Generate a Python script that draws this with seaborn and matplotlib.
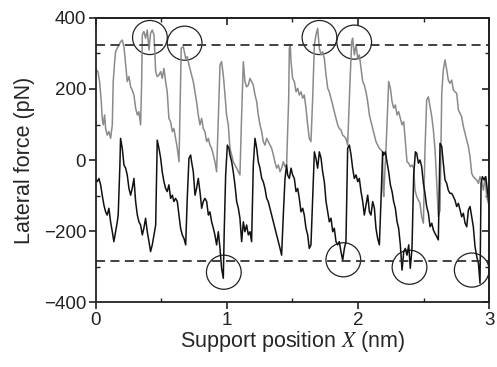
import numpy as np
import pandas as pd
import matplotlib
matplotlib.use("Agg")
import matplotlib.pyplot as plt
from matplotlib.patches import Ellipse
from matplotlib.ticker import MultipleLocator
import seaborn as sns

# upper (gray) trace
x_gray = [0.0, 0.015, 0.028, 0.041, 0.048, 0.056, 0.066, 0.074, 0.086, 0.099, 0.112, 0.125, 0.132, 0.143,
          0.150, 0.163, 0.176, 0.188, 0.201, 0.214, 0.227, 0.239, 0.252, 0.265, 0.277, 0.290, 0.303, 0.316,
          0.328, 0.341, 0.349, 0.354, 0.366, 0.379, 0.392, 0.405, 0.417, 0.430, 0.443, 0.456, 0.468, 0.481,
          0.494, 0.506, 0.519, 0.532, 0.544, 0.557, 0.570, 0.583, 0.595, 0.608, 0.621, 0.634, 0.651, 0.667,
          0.685, 0.697, 0.710, 0.723, 0.743, 0.768, 0.781, 0.794, 0.807, 0.819, 0.832, 0.845, 0.858, 0.870,
          0.883, 0.896, 0.908, 0.921, 0.947, 0.959, 0.972, 0.985, 0.997, 1.010, 1.023, 1.036, 1.048, 1.074,
          1.099, 1.112, 1.125, 1.137, 1.150, 1.163, 1.176, 1.188, 1.201, 1.214, 1.227, 1.239, 1.252, 1.265,
          1.277, 1.290, 1.303, 1.315, 1.328, 1.341, 1.354, 1.366, 1.379, 1.392, 1.405, 1.417, 1.430, 1.443,
          1.455, 1.471, 1.476, 1.483, 1.489, 1.501, 1.514, 1.527, 1.540, 1.552, 1.565, 1.578, 1.590, 1.603,
          1.616, 1.628, 1.641, 1.654, 1.667, 1.679, 1.692, 1.705, 1.718, 1.730, 1.743, 1.756, 1.769, 1.781,
          1.794, 1.807, 1.819, 1.832, 1.845, 1.857, 1.870, 1.883, 1.896, 1.908, 1.921, 1.939, 1.952, 1.959,
          1.972, 1.985, 1.998, 2.010, 2.023, 2.036, 2.048, 2.061, 2.074, 2.087, 2.099, 2.112, 2.125, 2.137,
          2.150, 2.163, 2.176, 2.188, 2.191, 2.196, 2.214, 2.234, 2.247, 2.260, 2.272, 2.285, 2.298, 2.310,
          2.323, 2.336, 2.349, 2.361, 2.374, 2.387, 2.399, 2.412, 2.425, 2.435, 2.448, 2.461, 2.473, 2.486,
          2.499, 2.511, 2.524, 2.537, 2.550, 2.563, 2.575, 2.588, 2.601, 2.613, 2.626, 2.639, 2.651, 2.664,
          2.677, 2.689, 2.702, 2.715, 2.728, 2.740, 2.753, 2.766, 2.779, 2.791, 2.804, 2.817, 2.830, 2.842,
          2.855, 2.868, 2.880, 2.893, 2.906, 2.919, 2.931, 2.944, 2.957, 2.970, 2.982, 2.995]
f_gray = [255, 249, 221, 164, 117, 99, 127, 89, 70, 80, 61, 99, 221, 277,
          305, 315, 324, 333, 338, 319, 268, 221, 235, 206, 197, 183, 146, 127,
          136, 99, 221, 352, 362, 343, 366, 310, 357, 366, 352, 249, 235, 239,
          249, 230, 258, 221, 192, 117, 108, 80, 89, 61, 33, -5, 315, 319,
          286, 291, 268, 249, 221, 164, 127, 99, 117, 89, 80, 52, 61, 42,
          33, 14, -5, -33, 268, 277, 239, 183, 127, 99, 33, 14, -5, -23,
          -42, 127, 277, 221, 206, 211, 230, 221, 211, 183, 164, 127, 99, 80,
          52, 42, 61, 52, 42, 33, 14, -5, -23, -14, -33, -23, -5, -19,
          -14, 174, 315, 324, 277, 230, 221, 192, 202, 183, 192, 174, 183, 146,
          99, 61, 52, 174, 324, 352, 371, 315, 296, 305, 286, 239, 202, 192,
          174, 155, 136, 117, 99, 89, 85, 70, 66, 61, 42, 221, 333, 343,
          296, 324, 286, 296, 258, 221, 211, 192, 164, 127, 108, 89, 70, 52,
          42, 33, 28, 23, -80, -103, 33, 221, 202, 164, 146, 155, 127, 136,
          117, 99, 108, 52, -5, -9, -19, -14, -23, -85, -103, -113, -122, -160,
          -178, 28, 169, 178, 150, 122, 85, 28, -66, -160, -141, 188, 254, 282,
          254, 225, 216, 225, 197, 192, 188, 141, 131, 122, 94, 75, 56, 38,
          9, -38, -47, -52, -56, -66, -47, -61, -85, -47, -103, -122]

# lower (black) trace
x_black = [0.0, 0.010, 0.023, 0.036, 0.048, 0.061, 0.074, 0.086, 0.099, 0.112, 0.125, 0.137, 0.150, 0.163,
           0.170, 0.183, 0.188, 0.201, 0.214, 0.227, 0.239, 0.252, 0.265, 0.277, 0.290, 0.303, 0.316, 0.328,
           0.341, 0.354, 0.366, 0.379, 0.392, 0.405, 0.417, 0.430, 0.443, 0.456, 0.468, 0.481, 0.494, 0.506,
           0.519, 0.532, 0.544, 0.557, 0.570, 0.583, 0.595, 0.608, 0.621, 0.634, 0.646, 0.659, 0.672, 0.685,
           0.697, 0.710, 0.723, 0.730, 0.743, 0.756, 0.768, 0.781, 0.794, 0.807, 0.819, 0.832, 0.845, 0.858,
           0.870, 0.883, 0.896, 0.908, 0.921, 0.934, 0.947, 0.959, 0.972, 0.979, 0.990, 1.003, 1.015, 1.023,
           1.036, 1.048, 1.061, 1.074, 1.087, 1.099, 1.112, 1.125, 1.137, 1.150, 1.163, 1.176, 1.188, 1.201,
           1.214, 1.227, 1.239, 1.252, 1.265, 1.277, 1.290, 1.303, 1.315, 1.328, 1.341, 1.354, 1.366, 1.379,
           1.392, 1.405, 1.417, 1.430, 1.443, 1.455, 1.463, 1.476, 1.489, 1.501, 1.514, 1.527, 1.540, 1.552,
           1.565, 1.578, 1.590, 1.603, 1.616, 1.628, 1.641, 1.654, 1.667, 1.679, 1.692, 1.705, 1.718, 1.730,
           1.743, 1.756, 1.769, 1.781, 1.794, 1.807, 1.819, 1.832, 1.845, 1.857, 1.870, 1.883, 1.896, 1.908,
           1.921, 1.934, 1.947, 1.959, 1.972, 1.985, 1.998, 2.010, 2.023, 2.036, 2.048, 2.061, 2.074, 2.087,
           2.099, 2.112, 2.125, 2.137, 2.150, 2.163, 2.176, 2.188, 2.196, 2.209, 2.221, 2.234, 2.247, 2.260,
           2.272, 2.285, 2.298, 2.310, 2.323, 2.336, 2.349, 2.361, 2.374, 2.387, 2.399, 2.412, 2.425, 2.438,
           2.448, 2.461, 2.473, 2.486, 2.499, 2.511, 2.524, 2.537, 2.550, 2.563, 2.575, 2.588, 2.601, 2.613,
           2.626, 2.639, 2.651, 2.664, 2.677, 2.689, 2.702, 2.715, 2.728, 2.740, 2.753, 2.766, 2.779, 2.791,
           2.804, 2.817, 2.830, 2.842, 2.855, 2.868, 2.880, 2.893, 2.906, 2.919, 2.931, 2.939, 2.949, 2.962,
           2.975, 2.987, 3.0]
f_black = [-55, -61, -52, -70, -99, -127, -146, -155, -136, -174, -202, -230, -202, -174,
           -155, -14, 61, 33, -14, -23, -42, -80, -99, -80, -52, -117, -155, -174,
           -183, -211, -192, -164, -202, -230, -258, -239, -211, -183, 56, 33, 5, -33,
           -61, -80, -89, -70, -108, -99, -117, -108, -117, -155, -192, -211, -221, -239,
           -108, 5, 14, -5, -33, -99, -80, -52, -89, -136, -117, -108, -117, -155,
           -146, -174, -192, -211, -239, -202, -249, -305, -333, -202, -42, 42, 33, 14,
           -5, -33, -70, -117, -136, -164, -230, -174, -202, -183, -211, -202, -230, -14,
           61, 33, -5, -23, -52, -61, -80, -108, -117, -136, -155, -174, -192, -211,
           -230, -249, -268, -155, -52, -14, -42, -52, -23, -42, -52, -89, -80, -108,
           -146, -136, -155, -192, -211, -249, -239, -108, 23, 5, -23, 23, 5, -33,
           -61, -117, -146, -174, -164, -202, -192, -230, -239, -230, -258, -282, -249, -230,
           33, 42, 14, -23, -52, -42, -61, -52, -89, -117, -155, -127, -99, -146,
           -155, -117, -136, -192, -221, -239, -108, 23, 14, 23, -5, -33, -70, -89,
           -117, -136, -174, -192, -239, -310, -258, -249, -268, -239, -305, -249, -42, 23,
           19, -9, 0, -19, -66, -94, -131, -150, -188, -178, -197, -207, -216, -225,
           47, 38, -9, -56, -66, -85, -94, -94, -103, -113, -131, -122, -141, -160,
           -150, -178, -188, -141, -131, -160, -188, -244, -272, -291, -347, -66, -47, -56,
           -47, -85, -122]

ref_levels = [325, -285]
circle_x = [0.412, 0.677, 1.706, 1.971, 0.976, 1.888, 2.393, 2.868]
circle_f = [345, 329, 345, 332, -316, -281, -302, -310]

xticks = [0, 1, 2, 3]
yticks = [-400, -200, 0, 200, 400]

sns.set_style("ticks")
plt.rcParams['font.family'] = ['Liberation Sans', 'DejaVu Sans']
plt.rcParams['mathtext.fontset'] = 'stix'

df_g = pd.DataFrame({'x': x_gray, 'f': f_gray})
df_b = pd.DataFrame({'x': x_black, 'f': f_black})

fig = plt.figure(figsize=(4.97, 3.67), dpi=100)
ax = fig.add_axes([0.193, 0.177, 0.791, 0.774])

sns.lineplot(data=df_g, x='x', y='f', ax=ax, color='#8a8a8a', lw=1.1, estimator=None, sort=False)
sns.lineplot(data=df_b, x='x', y='f', ax=ax, color='#111111', lw=1.1, estimator=None, sort=False)
for lev in ref_levels:
    ax.axhline(lev, color='#333333', lw=1.3, ls=(0, (5, 3)))

for cx, cf in zip(circle_x, circle_f):
    ax.add_patch(Ellipse((cx, cf), 0.265, 96, fill=False, ec='#222222', lw=0.9))

ax.set_xlim(0, 3)
ax.set_ylim(-400, 400)
ax.set_xticks(xticks)
ax.set_yticks(yticks)
ax.xaxis.set_minor_locator(MultipleLocator(0.5))
ax.yaxis.set_minor_locator(MultipleLocator(100))
ax.tick_params(which='major', direction='out', length=5, width=1.2, labelsize=13.5, pad=2, colors='#222222')
ax.tick_params(which='minor', direction='in', length=3, width=1.0, colors='#222222')
for s in ax.spines.values():
    s.set_linewidth(1.3)
    s.set_color('#222222')

# inward ticks on the top and right frame
top = ax.secondary_xaxis('top')
top.set_xticks(xticks)
top.xaxis.set_minor_locator(MultipleLocator(0.5))
top.tick_params(which='both', direction='in', labeltop=False, colors='#222222')
top.tick_params(which='major', length=5, width=1.2)
top.tick_params(which='minor', length=3, width=1.0)
right = ax.secondary_yaxis('right')
right.set_yticks(yticks)
right.yaxis.set_minor_locator(MultipleLocator(100))
right.tick_params(which='both', direction='in', labelright=False, colors='#222222')
right.tick_params(which='major', length=5, width=1.2)
right.tick_params(which='minor', length=3, width=1.0)
for sec in (top, right):
    for s in sec.spines.values():
        s.set_linewidth(1.3)
        s.set_color('#222222')

ax.set_xlabel(r'Support position $\mathit{X}$ (nm)', fontsize=15.5, labelpad=0)
ax.set_ylabel('Lateral force (pN)', fontsize=15.5, labelpad=6)

fig.savefig('out.png', dpi=100)
